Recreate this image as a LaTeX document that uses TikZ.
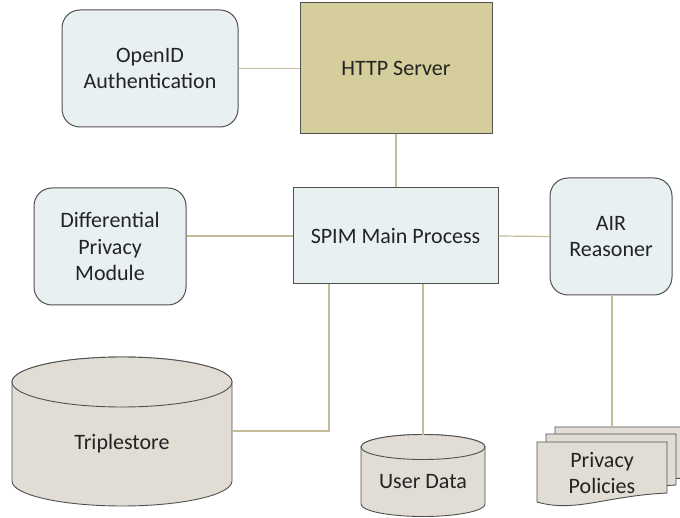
\documentclass[tikz,border=0pt]{standalone}
\usepackage{fontspec}
\setmainfont{Carlito}
\usetikzlibrary{positioning}

\definecolor{boxfill}{RGB}{232,240,241}
\definecolor{httpfill}{RGB}{213,205,155}
\definecolor{storefill}{RGB}{225,221,212}
\definecolor{edgegray}{RGB}{80,80,80}
\definecolor{linkcol}{RGB}{196,189,150}
\definecolor{txtcol}{RGB}{35,35,35}

\begin{document}
\begin{tikzpicture}[x=1pt, y=-1pt,
    every node/.style={font=\fontsize{22}{26.5}\selectfont, text=txtcol, align=center},
    roundbox/.style={draw=edgegray, line width=1pt, fill=boxfill, rounded corners=18pt, inner sep=0pt},
    plainbox/.style={draw=edgegray, line width=1pt, inner sep=0pt},
    store/.style={draw=edgegray, line width=0.9pt, fill=storefill},
    link/.style={draw=linkcol, line width=1.2pt}]
    \useasboundingbox (0,0) rectangle (680,518);

    % Top row
    \node[roundbox, minimum width=176pt, minimum height=117pt] (openid) at (150,68.5) {OpenID\\Authentication};
    \node[plainbox, fill=httpfill, minimum width=192pt, minimum height=131pt] (http) at (396,68.5) {HTTP Server};

    % Middle row
    \node[plainbox, fill=boxfill, minimum width=205pt, minimum height=96pt] (spim) at (395.5,236) {SPIM Main Process};
    \node[roundbox, minimum width=152pt, minimum height=117pt] (diff) at (110,246.5) {Differential\\Privacy\\Module};
    \node[roundbox, minimum width=122pt, minimum height=117pt] (air) at (611,236.5) {AIR\\Reasoner};

    % Triplestore
    \path[store] (12,382) -- (12,481) arc[start angle=180, end angle=0, x radius=110, y radius=25]
        -- (232,382) arc[start angle=0, end angle=-180, x radius=110, y radius=25] -- cycle;
    \draw[store] (122,382) ellipse (110 and 25);
    \node (triple) at (122,444) {Triplestore};
    \coordinate (tripR) at (232,431);

    % User data
    \path[store] (361,447) -- (361,504) arc[start angle=180, end angle=0, x radius=62, y radius=12.5]
        -- (485,447) arc[start angle=0, end angle=-180, x radius=62, y radius=12.5] -- cycle;
    \draw[store] (423,447) ellipse (62 and 12.5);
    \node (udata) at (423,482) {User Data};
    \coordinate (udtop) at (423,434.5);

    % Privacy policies (stack of documents)
    \foreach \dx/\dy in {18/-15, 9/-8, 0/0} {
        \path[store, shift={(\dx,\dy)}] (537,442) -- (667,442) -- (667,493)
            .. controls (605,496) and (575,513) .. (537,502) -- cycle;
    }
    \node (policies) at (602,473) {Privacy\\Policies};
    \coordinate (poltop) at (612,427);

    % Connections
    \draw[link] (openid.east) -- (http.west);
    \draw[link] (http.south) -- (http.south |- spim.north);
    \draw[link] (spim.west) -- (spim.west -| diff.east);
    \draw[link] (spim.east) -- (air.west);
    \draw[link] ([xshift=-66.5pt]spim.south) |- (tripR);
    \draw[link] (spim.south -| udtop) -- (udtop);
    \draw[link] (air.south -| poltop) -- (poltop);

\end{tikzpicture}
\end{document}
